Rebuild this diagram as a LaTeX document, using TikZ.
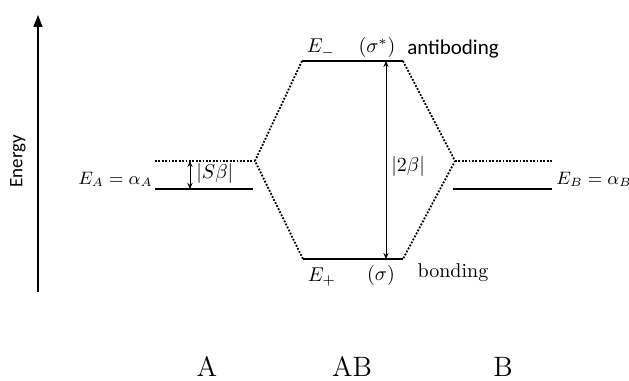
\documentclass[tikz,border=0pt]{standalone}
\usepackage{fontspec}
\newfontfamily\calibri{Carlito}
\usetikzlibrary{arrows.meta}

\tikzset{
  level/.style={line width=1pt},
  mixline/.style={line width=0.9pt, dash pattern=on 0.9pt off 0.8pt},
  gap/.style={<->, >={Stealth[length=3pt, width=2.6pt]}, line width=0.45pt},
  elabel/.style={font=\fontsize{9}{11}\selectfont},
}

\begin{document}
\begin{tikzpicture}[x=0.5pt, y=0.5pt, every node/.style={inner sep=0pt}]
				\useasboundingbox (0,0) rectangle (629,381);
				% 1. 能量坐标轴
				\coordinate (axlo) at (38,89);
				\coordinate (axhi) at (38,366);
				\draw[line width=0.6pt, -{Triangle[length=6pt, width=4.5pt]}] (axlo) -- (axhi);
				\node[rotate=90, font=\calibri\fontsize{9.5}{11}\selectfont] (energy) at (18,220) {Energy};
				
				% 2. 原子 A 的能级
				\coordinate (aDL) at (155,220);
				\coordinate (aDR) at (255,220);
				\coordinate (aL) at (155,192);
				\coordinate (aR) at (253,192);
				\draw[mixline] (aDL) -- (aDR);
				\draw[level] (aL) -- (aR);
				\node[elabel, anchor=base east] (EA) at (153,196) {$E_A = \alpha_A$};
				\coordinate (sTop) at (190,220);
				\coordinate (sBot) at (190,192);
				\draw[gap] (sBot) -- (sTop);
				\node[anchor=west] (Sb) at (196,207) {$|S\beta|$};
				
				% 3. 原子 B 的能级
				\coordinate (bDL) at (455,220);
				\coordinate (bDR) at (552,220);
				\coordinate (bL) at (453,192);
				\coordinate (bR) at (552,192);
				\draw[mixline] (bDL) -- (bDR);
				\draw[level] (bL) -- (bR);
				\node[elabel, anchor=base west] (EB) at (556,196) {$E_B = \alpha_B$};
				
				% 4. 分子 AB 的能级
				\coordinate (upL) at (302,320);
				\coordinate (upR) at (403,320);
				\coordinate (loL) at (303,122);
				\coordinate (loR) at (403,122);
				\draw[level] (upL) -- (upR);
				\draw[level] (loL) -- (loR);
				\node[anchor=base] (Em) at (321,328) {$E_-$};
				\node[anchor=base] (sst) at (377,328) {$(\sigma^*)$};
				\node[anchor=base, font=\calibri\fontsize{10.5}{12}\selectfont] (anti) at (453,326) {antiboding};
				\node[anchor=base] (Ep) at (322,99) {$E_+$};
				\node[anchor=base] (sg) at (381,100) {$(\sigma)$};
				\node[anchor=base] (bond) at (453,103) {bonding};
				
				% 5. 相互作用虚线
				\draw[mixline] (upL) -- (aDR) -- (loL);
				\draw[mixline] (upR) -- (bDL) -- (loR);
				
				% 6. 能级差 2beta
				\coordinate (tTop) at (386,320);
				\coordinate (tBot) at (386,122);
				\draw[gap] (tBot) -- (tTop);
				\node[anchor=west] (tb) at (391,214) {$|2\beta|$};
				
				% 7. 底部标签
				\node[anchor=base, font=\fontsize{14}{16}\selectfont] (labA) at (207,4) {A};
				\node[anchor=base, font=\fontsize{14}{16}\selectfont] (labAB) at (352,4) {AB};
				\node[anchor=base, font=\fontsize{14}{16}\selectfont] (labB) at (503,4) {B};
			\end{tikzpicture}
\end{document}
